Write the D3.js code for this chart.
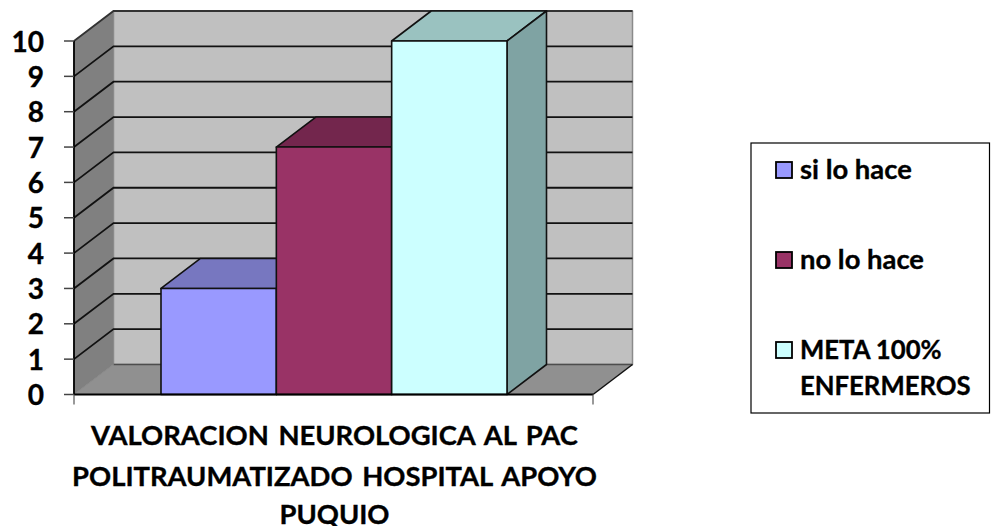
<!DOCTYPE html>
<html>
<head>
<meta charset="utf-8">
<script src="https://cdn.jsdelivr.net/npm/d3@7/dist/d3.min.js"></script>
<style>
html,body{margin:0;padding:0;background:#fff;}
svg{display:block;}
text{font-family:Lato,"Open Sans",sans-serif;font-weight:700;fill:#000;stroke:#000;stroke-width:0.35px;}
</style>
</head>
<body>
<svg id="chart" width="991" height="526"></svg>
<script>
const seriesNames = ["si lo hace", "no lo hace", "META 100%|ENFERMEROS"];
const seriesValues = [3, 7, 10];
const frontColors = ["#9999ff", "#993366", "#ccffff"];
const topColors = ["#7777c0", "#73264d", "#9ac2c0"];
const sideColors = ["#7373bf", "#73264c", "#7fa3a3"];
const yTicks = [0, 1, 2, 3, 4, 5, 6, 7, 8, 9, 10];
const titleLines = ["VALORACION NEUROLOGICA AL PAC", "POLITRAUMATIZADO HOSPITAL APOYO", "PUQUIO"];

const svg = d3.select("#chart");
const left = 74, right = 593, depthX = 39.5, depthY = -30;
const y = d3.scaleLinear().domain([0, 10]).range([394.5, 41]);
const x = d3.scaleBand().domain(seriesNames).range([left + 0.5, right + 0.5]).paddingOuter(0.75).paddingInner(0)
  .align(0.5);

const poly = (pts, fill, stroke, sw) => svg.append("path")
  .attr("d", d3.line()(pts) + "Z")
  .attr("fill", fill)
  .attr("stroke", stroke || "none")
  .attr("stroke-width", sw || 0)
  .attr("stroke-linejoin", "round");

// Back wall, side wall and floor of the 3D box
const y0 = y(0), yMax = y(10);
poly([[left + depthX, y0 + depthY], [right + depthX, y0 + depthY], [right + depthX, yMax + depthY], [left + depthX, yMax + depthY]], "#c0c0c0", "#8a8a8a", 1.5);
poly([[left, y0], [left + depthX, y0 + depthY], [left + depthX, yMax + depthY], [left, yMax]], "#808080", "#8a8a8a", 1);
poly([[left, y0], [right, y0], [right + depthX, y0 + depthY], [left + depthX, y0 + depthY]], "#909090");

// Gridlines run across the back wall and fold down the side wall
yTicks.forEach(t => {
  if (t === 0) {
    svg.append("line").attr("x1", left + depthX).attr("x2", right + depthX)
      .attr("y1", y(t) + depthY).attr("y2", y(t) + depthY)
      .attr("stroke", "#4d4d4d").attr("stroke-width", 1.5);
    return;
  }
  svg.append("path")
    .attr("d", d3.line()([[left, y(t)], [left + depthX, y(t) + depthY], [right + depthX, y(t) + depthY]]))
    .attr("fill", "none").attr("stroke", t === 10 ? "#333" : "#111").attr("stroke-width", 1.8);
});

// Floor edges
svg.append("line").attr("x1", left).attr("y1", y0).attr("x2", left + depthX).attr("y2", y0 + depthY)
  .attr("stroke", "#8a8a8a").attr("stroke-width", 1);
svg.append("line").attr("x1", right).attr("y1", y0).attr("x2", right + depthX).attr("y2", y0 + depthY)
  .attr("stroke", "#111").attr("stroke-width", 1.5);

// Bars: top face, right face, then the front face
seriesNames.forEach((name, i) => {
  const x0 = x(name), x1 = x0 + x.bandwidth(), yv = y(seriesValues[i]);
  poly([[x0, yv], [x1, yv], [x1 + depthX, yv + depthY], [x0 + depthX, yv + depthY]], topColors[i], "#111", 1.6);
  poly([[x1, y0], [x1 + depthX, y0 + depthY], [x1 + depthX, yv + depthY], [x1, yv]], sideColors[i], "#111", 1.6);
  poly([[x0, y0], [x1, y0], [x1, yv], [x0, yv]], frontColors[i], "#111", 1.6);
});

// Value axis with its ticks and labels
svg.append("line").attr("x1", left).attr("x2", left).attr("y1", y0).attr("y2", yMax)
  .attr("stroke", "#000").attr("stroke-width", 1.8);
yTicks.forEach(t => {
  svg.append("line").attr("x1", left - 10).attr("x2", left).attr("y1", y(t)).attr("y2", y(t))
    .attr("stroke", "#444").attr("stroke-width", 1.5);
  svg.append("text").attr("x", 44).attr("y", y(t) + 10.5)
    .attr("text-anchor", "end").attr("font-size", 28).text(t);
});

// Category axis with end ticks
svg.append("line").attr("x1", left).attr("x2", right).attr("y1", y0).attr("y2", y0)
  .attr("stroke", "#000").attr("stroke-width", 1.8);
[left, right].forEach(px => svg.append("line").attr("x1", px).attr("x2", px).attr("y1", y0).attr("y2", y0 + 10)
  .attr("stroke", "#555").attr("stroke-width", 1.2));

// Category title, three centred lines
const titleY = [445, 486, 524];
titleLines.forEach((line, i) => svg.append("text")
  .attr("x", 334.5).attr("y", titleY[i]).attr("text-anchor", "middle").attr("font-size", 27.4)
  .attr("word-spacing", 3).text(line));

// Legend
svg.append("rect").attr("x", 751).attr("y", 143).attr("width", 238.5).attr("height", 270)
  .attr("fill", "#fff").attr("stroke", "#000").attr("stroke-width", 1.2);
const legendY = [170, 260, 350];
const legendFontSize = [27.4, 27.4, 25.7];
seriesNames.forEach((name, i) => {
  svg.append("rect").attr("x", 776).attr("y", legendY[i] - 8).attr("width", 16).attr("height", 16)
    .attr("fill", frontColors[i]).attr("stroke", "#000").attr("stroke-width", 1.8);
  name.split("|").forEach((part, j) => svg.append("text")
    .attr("x", 800).attr("y", legendY[i] + 9 + j * 36).attr("font-size", legendFontSize[i]).text(part));
});
</script>
</body>
</html>
